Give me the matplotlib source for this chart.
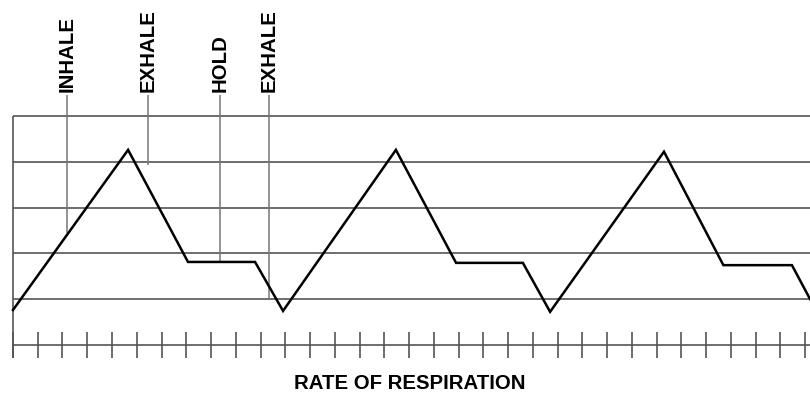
import matplotlib
matplotlib.use("Agg")
import matplotlib.pyplot as plt
import numpy as np

# Datos (x en unidades de marca, y en unidades de rejilla)
wave_x = [0, 4.65, 7.07, 9.78, 10.91, 15.47, 17.9, 20.6, 21.7, 26.3, 28.7, 31.47, 32.2]
wave_y = [-0.24, 3.26, 0.81, 0.81, -0.26, 3.26, 0.79, 0.79, -0.28, 3.22, 0.74, 0.74, 0.0]

grid_levels = [0, 1, 2, 3, 4]
tick_pos = list(range(0, 33))

labels = ["INHALE", "EXHALE", "HOLD", "EXHALE"]
label_x = [2.17, 5.45, 8.36, 10.34]
label_end = [1.44, 2.93, 0.81, 0.0]

title = "RATE OF RESPIRATION"

plt.rcParams['font.family'] = ['Liberation Sans', 'DejaVu Sans']

fig = plt.figure(figsize=(8.1, 4.11), dpi=100)
ax = fig.add_axes([0, 0, 1, 1])
ax.set_xlim(-0.525, 32.2)
ax.set_ylim(-2.448, 6.536)
ax.axis('off')

gris = '#555555'

# Rejilla horizontal
for lv in grid_levels:
    ax.plot([0, 33], [lv, lv], color=gris, lw=1.2, solid_capstyle='butt')

# Borde izquierdo
ax.plot([0, 0], [4, -1.29], color=gris, lw=1.2, solid_capstyle='butt')

# Eje de marcas
ax.plot([0, 33], [-1, -1], color=gris, lw=1.2)
for t in tick_pos:
    ax.plot([t, t], [-0.72, -1.29], color=gris, lw=1.2, solid_capstyle='butt')

# Lineas de las etiquetas
for lx, le, txt in zip(label_x, label_end, labels):
    ax.plot([lx, lx], [4.47, le], color='#777777', lw=1.1, solid_capstyle='butt')
    ax.text(lx, 4.53, txt, rotation=90, ha='center', va='bottom',
            fontsize=14.7, fontweight='bold')

# Onda de respiracion
ax.plot(wave_x, wave_y, color='black', lw=1.8, solid_joinstyle='miter')

ax.text(16.04, -1.84, title, ha='center', va='center', fontsize=14.7, fontweight='bold')

fig.savefig('out.png', dpi=100)
